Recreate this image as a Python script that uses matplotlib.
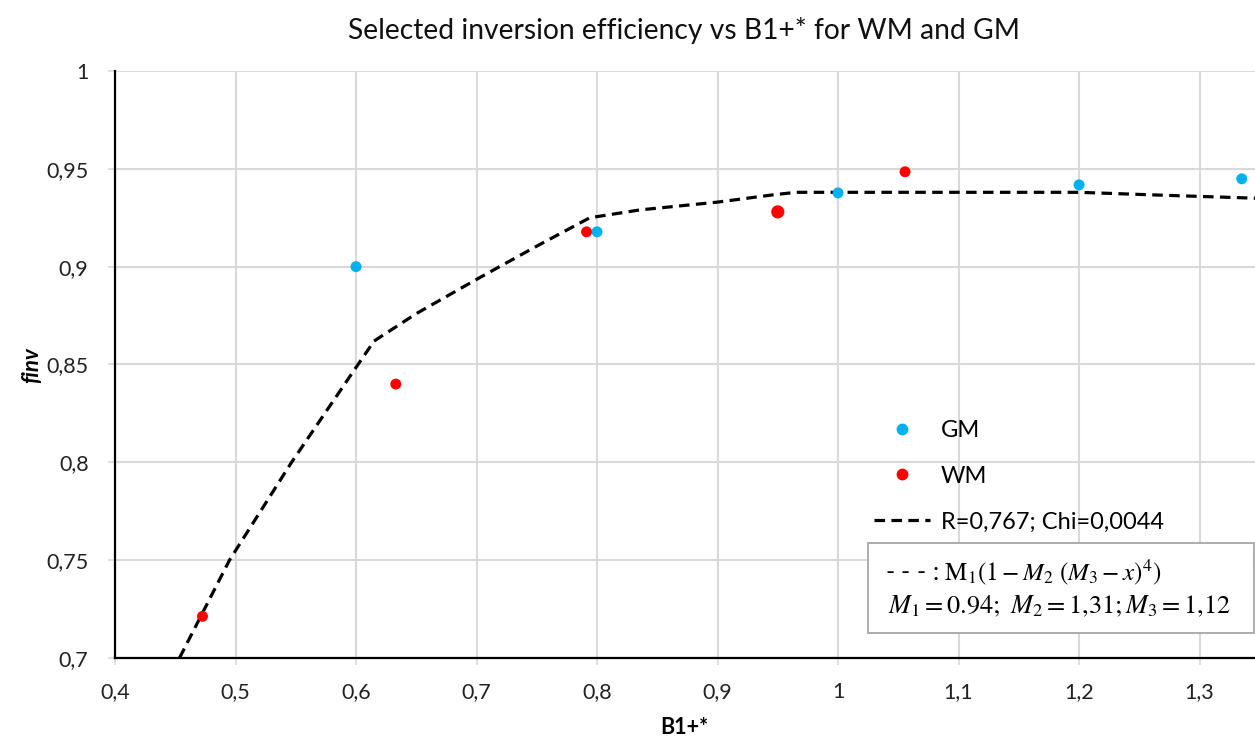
import matplotlib
matplotlib.use("Agg")
import matplotlib.pyplot as plt
from matplotlib.lines import Line2D
from matplotlib.patches import Rectangle
from matplotlib.ticker import FuncFormatter, MultipleLocator

plt.rcParams['font.family'] = ['Lato', 'DejaVu Sans']
plt.rcParams['mathtext.fontset'] = 'stix'

# measured points
gm_x = [0.6, 0.8, 1.0, 1.2, 1.335]
gm_y = [0.900, 0.9178, 0.9377, 0.9418, 0.9449]
wm_x = [0.4726, 0.633, 0.7913, 0.95, 1.0556]
wm_y = [0.7213, 0.840, 0.9178, 0.928, 0.9485]

# fitted curve
fit_x = [0.4535, 0.495, 0.5465, 0.6, 0.615, 0.65, 0.7, 0.75, 0.794,
         0.8355, 0.9, 0.946, 0.965, 1.0, 1.2, 1.27, 1.346]
fit_y = [0.700, 0.750, 0.800, 0.8485, 0.862, 0.876, 0.8935, 0.9105, 0.925,
         0.929, 0.933, 0.9367, 0.938, 0.938, 0.938, 0.9365, 0.935]

GM_COLOR = '#00B0F0'
WM_COLOR = '#FF0000'
GRID = '#D9D9D9'
DASH = (3.3, 2.0)

fig = plt.figure(figsize=(12.55, 7.40), dpi=100)
ax = fig.add_axes([115 / 1255, 1 - 658 / 740, 1 - 115 / 1255, (658 - 71) / 740])

ax.plot(fit_x, fit_y, color='black', lw=2.3, linestyle=(0, DASH),
        solid_capstyle='butt', dash_capstyle='butt', zorder=3)
ax.scatter(gm_x, gm_y, s=62, color=GM_COLOR, edgecolors='none', zorder=4)
wm_sizes = [62, 62, 62, 90, 62]
ax.scatter(wm_x, wm_y, s=wm_sizes, color=WM_COLOR, edgecolors='none', zorder=4)

ax.set_xlim(0.4, 1.346)
ax.set_ylim(0.7, 1.0)
ax.xaxis.set_major_locator(MultipleLocator(0.1))
ax.yaxis.set_major_locator(MultipleLocator(0.05))


def comma_fmt(v, pos):
    s = f"{v:.2f}".rstrip('0').rstrip('.')
    return s.replace('.', ',')


ax.xaxis.set_major_formatter(FuncFormatter(comma_fmt))
ax.yaxis.set_major_formatter(FuncFormatter(comma_fmt))
ax.grid(True, color=GRID, lw=1.5, zorder=0)
ax.set_axisbelow(True)
ax.tick_params(axis='both', length=5, width=1.2, color=GRID, labelsize=15.5,
               labelcolor='#222222')
ax.tick_params(axis='x', pad=12)
ax.tick_params(axis='y', pad=14)

for side in ('top', 'right'):
    ax.spines[side].set_visible(False)
for side in ('left', 'bottom'):
    ax.spines[side].set_color('black')
    ax.spines[side].set_linewidth(1.6)

fig.text(684 / 1255, 1 - 30 / 740, 'Selected inversion efficiency vs B1+* for WM and GM',
         ha='center', va='center', fontsize=20.3, color='#111111')
fig.text(32 / 1255, 1 - 365 / 740, 'finv', rotation=90, ha='center', va='center',
         fontsize=16, fontweight='bold', fontstyle='italic')
fig.text(684 / 1255, 1 - 727 / 740, 'B1+*', ha='center', va='center',
         fontsize=15.5, fontweight='bold')

handles = [
    Line2D([], [], marker='o', linestyle='none', color=GM_COLOR, markersize=7.5),
    Line2D([], [], marker='o', linestyle='none', color=WM_COLOR, markersize=7.5),
    Line2D([], [], color='black', lw=2.3, linestyle=(0, DASH)),
]
leg = fig.legend(handles, ['GM', 'WM', 'R=0,767; Chi=0,0044'],
                 loc='upper left', bbox_to_anchor=(862 / 1255, 1 - 408 / 740),
                 frameon=False, fontsize=17, handlelength=2.4, handletextpad=0.45,
                 labelspacing=1.05, borderpad=0)

# boxed formula of the fit
fig.add_artist(Rectangle((868 / 1255, 1 - 633 / 740), (1254 - 868) / 1255, 90 / 740,
                         transform=fig.transFigure, facecolor='white',
                         edgecolor='#A6A6A6', lw=1.3, zorder=5))
fig.text(885 / 1255, 1 - 572 / 740,
         r'- - - : $\mathrm{M}_1(1 - M_2\ (M_3 - x)^4)$',
         ha='left', va='center', fontsize=18, zorder=6)
fig.text(888 / 1255, 1 - 606 / 740,
         r'$M_1 = 0.94;\ M_2 = 1{,}31; M_3 = 1{,}12$',
         ha='left', va='center', fontsize=19, zorder=6)

fig.savefig('out.png', dpi=100, facecolor='white')
